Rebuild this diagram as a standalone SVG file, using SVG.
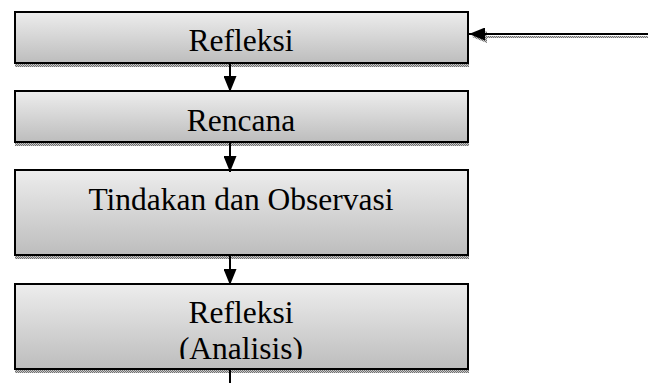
<svg xmlns="http://www.w3.org/2000/svg" width="648" height="383" viewBox="0 0 648 383">
<style>
.box{fill:url(#g);stroke:#000;stroke-width:2}
.sh{fill:url(#dots)}
.t{font-family:"Liberation Serif","Times New Roman",serif;font-size:31.5px;fill:#000;text-anchor:middle}
.c{stroke:#000;stroke-width:2;fill:none}
.cs{stroke:url(#dots);stroke-width:2;fill:none}
</style>
<defs>
<linearGradient id="g" x1="0" y1="0" x2="0" y2="1">
<stop offset="0" stop-color="#ededed"/>
<stop offset="1" stop-color="#bdbdbd"/>
</linearGradient>
<pattern id="dots" width="2" height="2" patternUnits="userSpaceOnUse">
<rect width="2" height="2" fill="#c8c8c8"/>
<rect width="1" height="1" fill="#707070"/>
<rect x="1" y="1" width="1" height="1" fill="#707070"/>
</pattern>
<marker id="ah" markerWidth="16" markerHeight="13" refX="16" refY="6.5" orient="auto" markerUnits="userSpaceOnUse">
<path d="M0,0 L16,6.5 L0,13 Z" fill="#000"/>
</marker>
<clipPath id="clip4"><rect x="15" y="285" width="452" height="74"/></clipPath>
</defs>
<rect width="648" height="383" fill="#fff"/>
<g id="n1">
<rect class="sh" x="15" y="64" width="454" height="3"/>
<rect class="box" x="15" y="12" width="453" height="51"/>
<text class="t" x="241" y="51">Refleksi</text>
</g>
<g id="n2">
<rect class="sh" x="15" y="143" width="454" height="3"/>
<rect class="box" x="15" y="91" width="453" height="51"/>
<text class="t" x="241" y="131">Rencana</text>
</g>
<g id="n3">
<rect class="sh" x="15" y="256" width="454" height="3"/>
<rect class="box" x="15" y="170" width="453" height="85"/>
<text class="t" x="241" y="210">Tindakan dan Observasi</text>
</g>
<g id="n4">
<rect class="sh" x="15" y="370" width="454" height="3"/>
<rect class="box" x="15" y="284" width="453" height="85"/>
<text class="t" x="241" y="323">Refleksi</text>
<text class="t" x="241" y="359" clip-path="url(#clip4)">(Analisis)</text>
</g>
<g id="connectors">
<path class="cs" d="M648,37 H486"/>
<path d="M472,37 L487,31 L487,43 Z" fill="url(#dots)"/>
<line class="c" x1="648" y1="34" x2="469" y2="34" marker-end="url(#ah)"/>
<line class="c" x1="230" y1="63" x2="230" y2="92" marker-end="url(#ah)"/>
<line class="c" x1="230" y1="142" x2="230" y2="172" marker-end="url(#ah)"/>
<line class="c" x1="230" y1="255" x2="230" y2="285" marker-end="url(#ah)"/>
<line class="c" x1="230" y1="369" x2="230" y2="383"/>
</g>
</svg>
